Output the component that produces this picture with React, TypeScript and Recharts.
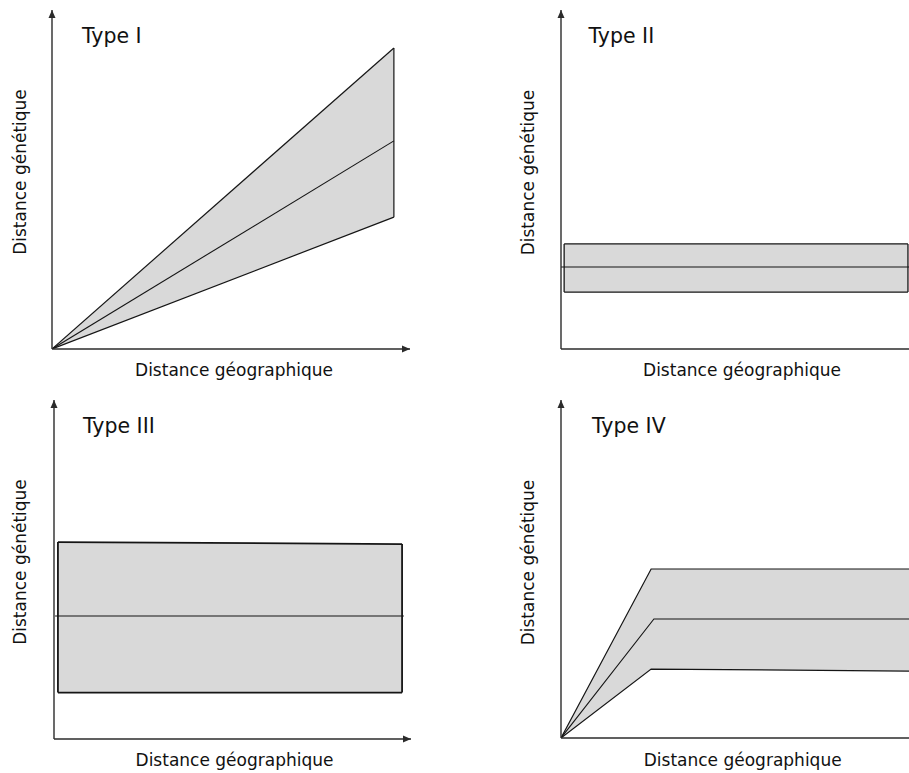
import React from "react";
import { ComposedChart, Area, Line, XAxis, YAxis, ReferenceLine, ReferenceDot } from "recharts";

// Type I
const bandXI = [0, 95.5];
const lowI = [0, 38.9];
const highI = [0, 88.8];
const midXI = [0, 95.5];
const midI = [0, 61.4];

// Type II
const bandXII = [0.9, 99.7];
const lowII = [16.8, 16.8];
const highII = [31.0, 31.0];
const midXII = [0, 100];
const midII = [24.2, 24.2];

// Type III
const bandXIII = [1.1, 97.5];
const lowIII = [13.7, 13.7];
const highIII = [58.1, 57.5];
const midXIII = [0.3, 98.0];
const midIII = [36.3, 36.3];

// Type IV
const bandXIV = [0, 25.9, 100];
const lowIV = [0, 20.4, 19.8];
const highIV = [0, 50.0, 50.0];
const midXIV = [0, 26.7, 100];
const midIV = [0, 35.2, 35.2];

const titles = ["Type I", "Type II", "Type III", "Type IV"];
const xTitle = "Distance géographique";
const yTitle = "Distance génétique";

const FONT = "'DejaVu Sans', sans-serif";
const AXIS = "#2b2b2b";
const EDGE = "#151515";
const FILL = "#d9d9d9";

const mkBand = (xs: number[], lo: number[], hi: number[]) =>
  xs.map((x, i) => ({ x, range: [lo[i], hi[i]] }));
const mkMid = (xs: number[], ys: number[]) => xs.map((x, i) => ({ x, y: ys[i] }));

const ArrowUp = (p: any) => (
  <polygon
    points={`${p.cx},${p.cy} ${p.cx - 3.5},${p.cy + 8} ${p.cx + 3.5},${p.cy + 8}`}
    fill={AXIS}
  />
);
const ArrowRight = (p: any) => (
  <polygon
    points={`${p.cx},${p.cy} ${p.cx - 8},${p.cy - 3.5} ${p.cx - 8},${p.cy + 3.5}`}
    fill={AXIS}
  />
);

type PanelProps = {
  left: number;
  top: number;
  width: number;
  height: number;
  yAxisWidth: number;
  xAxisHeight: number;
  marginTop: number;
  marginRight: number;
  band: { x: number; range: number[] }[];
  mid: { x: number; y: number }[];
  edges: { x: number; y1: number; y2: number }[];
  edgeWidth: number;
  xArrow: boolean;
};

function Panel(p: PanelProps) {
  return (
    <div style={{ position: "absolute", left: p.left, top: p.top }}>
      <ComposedChart
        width={p.width}
        height={p.height}
        margin={{ top: p.marginTop, right: p.marginRight, bottom: 0, left: 0 }}
      >
        <XAxis
          type="number"
          dataKey="x"
          domain={[0, 100]}
          allowDataOverflow
          tick={false}
          tickLine={false}
          height={p.xAxisHeight}
          axisLine={{ stroke: AXIS, strokeWidth: 1.4 }}
        />
        <YAxis
          type="number"
          domain={[0, 100]}
          allowDataOverflow
          tick={false}
          tickLine={false}
          width={p.yAxisWidth}
          axisLine={{ stroke: AXIS, strokeWidth: 1.4 }}
        />
        <Area
          data={p.band}
          dataKey="range"
          type="linear"
          fill={FILL}
          fillOpacity={1}
          stroke={EDGE}
          strokeWidth={p.edgeWidth}
          isAnimationActive={false}
          dot={false}
          activeDot={false}
        />
        {p.edges.map((e, i) => (
          <ReferenceLine
            key={i}
            segment={[
              { x: e.x, y: e.y1 },
              { x: e.x, y: e.y2 },
            ]}
            stroke={EDGE}
            strokeWidth={p.edgeWidth}
            ifOverflow="visible"
          />
        ))}
        <Line
          data={p.mid}
          dataKey="y"
          type="linear"
          stroke={EDGE}
          strokeWidth={1.1}
          dot={false}
          activeDot={false}
          isAnimationActive={false}
        />
        <ReferenceDot x={0} y={100} r={0} shape={ArrowUp} ifOverflow="visible" />
        {p.xArrow && (
          <ReferenceDot x={100} y={0} r={0} shape={ArrowRight} ifOverflow="visible" />
        )}
      </ComposedChart>
    </div>
  );
}

export default function App() {
  const textStyle: React.CSSProperties = { fontFamily: FONT, fill: "#111" };
  return (
    <div style={{ position: "absolute", left: 0, top: 0, width: 909, height: 773, background: "#fff", overflow: "hidden" }}>
      <Panel
        left={0}
        top={0}
        width={450}
        height={390}
        yAxisWidth={52}
        xAxisHeight={41}
        marginTop={10}
        marginRight={40}
        band={mkBand(bandXI, lowI, highI)}
        mid={mkMid(midXI, midI)}
        edges={[{ x: bandXI[1], y1: lowI[1], y2: highI[1] }]}
        edgeWidth={1.2}
        xArrow={true}
      />
      <Panel
        left={500}
        top={0}
        width={409}
        height={390}
        yAxisWidth={61}
        xAxisHeight={41}
        marginTop={10}
        marginRight={0}
        band={mkBand(bandXII, lowII, highII)}
        mid={mkMid(midXII, midII)}
        edges={[
          { x: bandXII[0], y1: lowII[0], y2: highII[0] },
          { x: bandXII[1], y1: lowII[1], y2: highII[1] },
        ]}
        edgeWidth={1.3}
        xArrow={false}
      />
      <Panel
        left={0}
        top={390}
        width={450}
        height={383}
        yAxisWidth={54}
        xAxisHeight={34}
        marginTop={10}
        marginRight={39}
        band={mkBand(bandXIII, lowIII, highIII)}
        mid={mkMid(midXIII, midIII)}
        edges={[
          { x: bandXIII[0], y1: lowIII[0], y2: highIII[0] },
          { x: bandXIII[1], y1: lowIII[1], y2: highIII[1] },
        ]}
        edgeWidth={1.8}
        xArrow={true}
      />
      <Panel
        left={500}
        top={390}
        width={409}
        height={383}
        yAxisWidth={61}
        xAxisHeight={35}
        marginTop={10}
        marginRight={0}
        band={mkBand(bandXIV, lowIV, highIV)}
        mid={mkMid(midXIV, midIV)}
        edges={[]}
        edgeWidth={1.2}
        xArrow={false}
      />
      <svg
        width={909}
        height={773}
        style={{ position: "absolute", left: 0, top: 0, pointerEvents: "none" }}
      >
        <text x={82} y={43.3} fontSize={20.5} style={textStyle}>{titles[0]}</text>
        <text x={588.5} y={42.7} fontSize={20.5} style={textStyle}>{titles[1]}</text>
        <text x={83} y={433.3} fontSize={20.5} style={textStyle}>{titles[2]}</text>
        <text x={592} y={432.7} fontSize={20.5} style={textStyle}>{titles[3]}</text>

        <text x={234} y={376} fontSize={17} textAnchor="middle" style={textStyle}>{xTitle}</text>
        <text x={742} y={375.7} fontSize={17} textAnchor="middle" style={textStyle}>{xTitle}</text>
        <text x={234.5} y={766} fontSize={17} textAnchor="middle" style={textStyle}>{xTitle}</text>
        <text x={742.7} y={765.7} fontSize={17} textAnchor="middle" style={textStyle}>{xTitle}</text>

        <text x={0} y={0} fontSize={17} textAnchor="middle" transform="translate(26,172) rotate(-90)" style={textStyle}>{yTitle}</text>
        <text x={0} y={0} fontSize={17} textAnchor="middle" transform="translate(533.5,172.5) rotate(-90)" style={textStyle}>{yTitle}</text>
        <text x={0} y={0} fontSize={17} textAnchor="middle" transform="translate(26,562) rotate(-90)" style={textStyle}>{yTitle}</text>
        <text x={0} y={0} fontSize={17} textAnchor="middle" transform="translate(533.5,562.5) rotate(-90)" style={textStyle}>{yTitle}</text>
      </svg>
    </div>
  );
}
